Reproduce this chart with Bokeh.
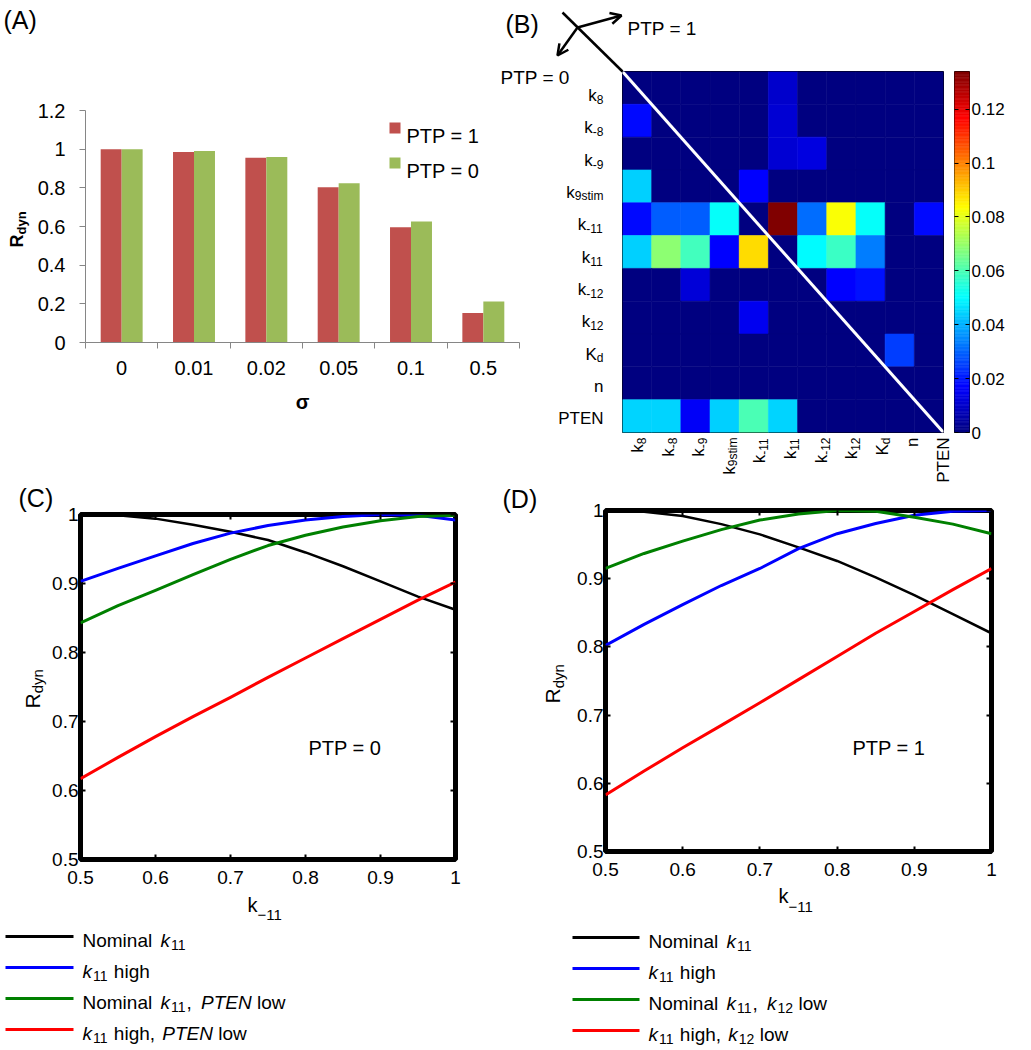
import math
import numpy as np
from bokeh.plotting import figure
from bokeh.models import (Range1d, LinearAxis, FixedTicker, Label, Arrow, OpenHead,
                          LinearColorMapper, ColumnDataSource, GridBox)
from bokeh.transform import transform
from bokeh.embed import file_html
from bokeh.resources import INLINE

FONT = "Liberation Sans"

# ---------------- data ----------------
sigma_labels = ["0", "0.01", "0.02", "0.05", "0.1", "0.5"]
rdyn_ptp1 = [1.000, 0.985, 0.955, 0.803, 0.596, 0.152]
rdyn_ptp0 = [1.000, 0.990, 0.960, 0.824, 0.626, 0.212]
bar_series = ["PTP = 1", "PTP = 0"]
rdyn_ticks = [0, 0.2, 0.4, 0.6, 0.8, 1.0, 1.2]
rdyn_tick_labels = ["0", "0.2", "0.4", "0.6", "0.8", "1", "1.2"]

param_main = ["k", "k", "k", "k", "k", "k", "k", "k", "K", "n", "PTEN"]
param_sub = ["8", "-8", "-9", "9stim", "-11", "11", "-12", "12", "d", "", ""]
sens = [
    [0, 0, 0, 0, 0, 0.010, 0, 0, 0, 0, 0],
    [0.018, 0, 0, 0, 0, 0.011, 0, 0, 0, 0, 0],
    [0, 0, 0, 0, 0, 0.011, 0.013, 0, 0, 0, 0],
    [0.044, 0, 0, 0, 0.017, 0, 0, 0, 0, 0, 0],
    [0.018, 0.029, 0.029, 0.051, 0, 0.134, 0.031, 0.083, 0.051, 0, 0.018],
    [0.044, 0.069, 0.059, 0.017, 0.088, 0, 0.050, 0.058, 0.033, 0, 0],
    [0, 0, 0.012, 0, 0, 0, 0, 0.017, 0.019, 0, 0],
    [0, 0, 0, 0, 0.015, 0, 0, 0, 0, 0, 0],
    [0, 0, 0, 0, 0, 0, 0, 0, 0, 0.025, 0],
    [0, 0, 0, 0, 0, 0, 0, 0, 0, 0, 0],
    [0.045, 0.045, 0.016, 0.044, 0.060, 0.045, 0, 0, 0, 0, 0],
]
cbar_ticks = [0, 0.02, 0.04, 0.06, 0.08, 0.1, 0.12]
cbar_tick_labels = ["0", "0.02", "0.04", "0.06", "0.08", "0.1", "0.12"]
cbar_max = 0.134

k_minus11 = [0.5, 0.55, 0.6, 0.65, 0.7, 0.75, 0.8, 0.85, 0.9, 0.95, 1.0]
c_nominal = [1.000, 0.999, 0.994, 0.985, 0.975, 0.963, 0.945, 0.925, 0.903, 0.881, 0.862]
c_k11_high = [0.903, 0.922, 0.940, 0.958, 0.973, 0.984, 0.992, 0.997, 1.000, 0.999, 0.992]
c_pten_low = [0.843, 0.868, 0.890, 0.913, 0.935, 0.955, 0.970, 0.982, 0.991, 0.997, 0.999]
c_k11_high_pten_low = [0.617, 0.648, 0.678, 0.707, 0.735, 0.764, 0.792, 0.820, 0.848, 0.876, 0.902]
d_nominal = [1.000, 0.998, 0.992, 0.980, 0.965, 0.946, 0.926, 0.902, 0.876, 0.848, 0.820]
d_k11_high = [0.802, 0.833, 0.862, 0.890, 0.915, 0.944, 0.966, 0.981, 0.993, 0.999, 1.000]
d_k12_low = [0.915, 0.937, 0.955, 0.972, 0.986, 0.995, 1.000, 0.999, 0.990, 0.980, 0.966]
d_k11_high_k12_low = [0.583, 0.618, 0.652, 0.685, 0.718, 0.752, 0.786, 0.820, 0.852, 0.884, 0.915]
curve_ticks = [0.5, 0.6, 0.7, 0.8, 0.9, 1.0]
curve_tick_labels = ["0.5", "0.6", "0.7", "0.8", "0.9", "1"]

RED_BAR, GREEN_BAR = "#C0504D", "#9BBB59"
CURVE_COLORS = ["#000000", "#0000FF", "#008000", "#FF0000"]
CURVE_WIDTHS = [2.5, 3, 3, 3]


# jet colormap (MATLAB style)
def jet(n=256):
    out = []
    for i in range(n):
        f = i / (n - 1)
        r = min(max(1.5 - abs(4 * f - 3), 0), 1)
        g = min(max(1.5 - abs(4 * f - 2), 0), 1)
        b = min(max(1.5 - abs(4 * f - 1), 0), 1)
        out.append("#%02x%02x%02x" % (int(round(r * 255)), int(round(g * 255)), int(round(b * 255))))
    return out


JET = jet(256)

# ---------------- layout helpers (image pixel coordinates) ----------------
W, H = 1030, 1049


def panel(left, top, right, bottom, x_range, y_range):
    p = figure(width=W, height=H, x_range=x_range, y_range=y_range,
               output_backend="svg", toolbar_location=None,
               x_axis_location=None, y_axis_location=None,
               min_border_left=int(round(left)), min_border_right=int(round(W - right)),
               min_border_top=int(round(top)), min_border_bottom=int(round(H - bottom)))
    p.frame_align = False
    p.border_fill_color = None
    p.background_fill_color = None
    p.outline_line_color = None
    p.xgrid.visible = False
    p.ygrid.visible = False
    return p


# ---------------- Panel A ----------------
nA = len(sigma_labels)
pA = panel(85, 110, 519, 342, Range1d(0, nA), Range1d(0, 1.2))
xc = np.arange(nA) + 0.5
bw = 0.29
srcA = ColumnDataSource(dict(x1=xc - bw / 2, x0=xc + bw / 2, p1=rdyn_ptp1, p0=rdyn_ptp0))
pA.vbar(x="x1", top="p1", bottom=0, width=bw, source=srcA, fill_color=RED_BAR, line_color=None)
pA.vbar(x="x0", top="p0", bottom=0, width=bw, source=srcA, fill_color=GREEN_BAR, line_color=None)
yaA = LinearAxis(ticker=FixedTicker(ticks=rdyn_ticks),
                 major_label_overrides=dict(zip(rdyn_ticks, rdyn_tick_labels)),
                 axis_line_color="#868686", major_tick_line_color="#868686",
                 major_tick_out=6, major_tick_in=0, minor_tick_line_color=None,
                 major_label_text_font=FONT, major_label_text_font_size="20px",
                 major_label_text_color="black", major_label_standoff=14)
pA.add_layout(yaA, "left")
xaA = LinearAxis(ticker=FixedTicker(ticks=xc.tolist(), minor_ticks=list(range(nA + 1))),
                 major_label_overrides=dict(zip(xc.tolist(), sigma_labels)),
                 axis_line_color="#868686", major_tick_line_color=None,
                 major_tick_out=0, major_tick_in=0,
                 minor_tick_line_color="#868686", minor_tick_out=6, minor_tick_in=0,
                 major_label_text_font=FONT, major_label_text_font_size="20px",
                 major_label_text_color="black", major_label_standoff=12)
pA.add_layout(xaA, "below")

# ---------------- Panel B (heatmap) ----------------
nP = len(param_main)
pB = panel(622, 71, 943, 432, Range1d(0, nP), Range1d(nP, 0))
mapper = LinearColorMapper(palette=JET, low=0, high=cbar_max)
rr, cc = np.indices((nP, nP))
srcB = ColumnDataSource(dict(x=(cc.ravel() + 0.5), y=(rr.ravel() + 0.5), v=np.array(sens).ravel()))
pB.rect(x="x", y="y", width=1, height=1, source=srcB,
        fill_color=transform("v", mapper), line_color=transform("v", mapper), line_width=0.6)
pB.line([0, nP], [0, nP], line_color="white", line_width=3)
pB.outline_line_color = "black"
pB.outline_line_width = 1

# colorbar
pCB = panel(954, 71, 969, 432, Range1d(0, 1), Range1d(0, cbar_max))
edges = np.linspace(0, cbar_max, len(JET) + 1)
pCB.quad(left=0, right=1, bottom=edges[:-1], top=edges[1:], fill_color=JET, line_color=JET, line_width=0.6)
pCB.outline_line_color = "black"
pCB.outline_line_width = 1
cb_right = LinearAxis(ticker=FixedTicker(ticks=cbar_ticks),
                      major_label_overrides=dict(zip(cbar_ticks, cbar_tick_labels)),
                      axis_line_color=None, major_tick_line_color="black",
                      major_tick_in=4, major_tick_out=0, minor_tick_line_color=None,
                      major_label_text_font=FONT, major_label_text_font_size="17px",
                      major_label_text_color="black", major_label_standoff=2)
pCB.add_layout(cb_right, "right")
cb_left = LinearAxis(ticker=FixedTicker(ticks=cbar_ticks),
                     major_label_overrides={t: "" for t in cbar_ticks},
                     axis_line_color=None, major_tick_line_color="black",
                     major_tick_in=4, major_tick_out=0, minor_tick_line_color=None)
pCB.add_layout(cb_left, "left")


# ---------------- Panels C, D ----------------
def curve_panel(left, top, right, bottom, series):
    p = panel(left, top, right, bottom, Range1d(0.5, 1.0), Range1d(0.5, 1.0))
    for ys, col, lw in zip(series, CURVE_COLORS, CURVE_WIDTHS):
        p.line(k_minus11, ys, line_color=col, line_width=lw, line_join="round")
    p.outline_line_color = "black"
    p.outline_line_width = 5
    common = dict(ticker=FixedTicker(ticks=curve_ticks), axis_line_color=None,
                  major_tick_line_color="black", major_tick_line_width=2,
                  major_tick_in=5, major_tick_out=0, minor_tick_line_color=None,
                  major_label_text_font=FONT, major_label_text_font_size="19px",
                  major_label_text_color="black")
    p.add_layout(LinearAxis(major_label_overrides=dict(zip(curve_ticks, curve_tick_labels)),
                            major_label_standoff=2, **common), "left")
    p.add_layout(LinearAxis(major_label_overrides=dict(zip(curve_ticks, curve_tick_labels)),
                            major_label_standoff=11, **common), "below")
    p.add_layout(LinearAxis(major_label_overrides={t: "" for t in curve_ticks}, **common), "right")
    p.add_layout(LinearAxis(major_label_overrides={t: "" for t in curve_ticks}, **common), "above")
    return p


pC = curve_panel(80, 514, 455, 859, [c_nominal, c_k11_high, c_pten_low, c_k11_high_pten_low])
pD = curve_panel(605, 510, 991, 851, [d_nominal, d_k11_high, d_k12_low, d_k11_high_k12_low])

# ---------------- Overlay (texts, arrows, legends) ----------------
o = panel(0, 0, W, H, Range1d(0, W), Range1d(H, 0))

AW = {' ': 278, ',': 278, '-': 333, '.': 278, '=': 584, '(': 333, ')': 333, '\u2212': 584,
      'A': 667, 'B': 667, 'C': 722, 'D': 722, 'E': 667, 'K': 667, 'N': 722, 'P': 667, 'R': 722, 'T': 611,
      'a': 556, 'd': 556, 'e': 556, 'g': 556, 'h': 556, 'i': 222, 'k': 500, 'l': 222, 'm': 833,
      'n': 556, 'o': 556, 's': 500, 't': 278, 'w': 722, 'y': 500}
BW = {'R': 722, 'd': 611, 'y': 556, 'n': 611}


def tw(s, size, style="normal"):
    tot = 0
    for ch in s:
        if style == "bold" and ch in BW:
            tot += BW[ch]
        else:
            tot += AW.get(ch, 556)
    return tot * size / 1000.0


def label(x, y, text, size, style="normal", align="left", baseline="alphabetic", angle=0.0, color="black"):
    o.add_layout(Label(x=x, y=y, text=text, text_font=FONT, text_font_size=f"{size}px",
                       text_font_style=style, text_align=align, text_baseline=baseline,
                       angle=angle, text_color=color))


def rich(x, y, parts, angle=0.0, align="left"):
    # parts: (text, size, style, drop, gap_after)
    total = sum(tw(t, s, st) + g for t, s, st, d, g in parts)
    pos = -total if align == "right" else 0.0
    ux, uy = math.cos(angle), -math.sin(angle)
    vx, vy = math.sin(angle), math.cos(angle)
    for t, s, st, d, g in parts:
        lead = len(t) - len(t.lstrip(" "))
        pos += tw(" " * lead, s, st)
        body = t.strip(" ")
        if body:
            label(x + ux * pos + vx * d, y + uy * pos + vy * d, body, s, st, angle=angle)
        pos += tw(t.lstrip(" "), s, st) + g


# panel letters
label(3, 19, "(A)", 25)
label(505, 23, "(B)", 25)
label(18, 497, "(C)", 25)
label(502, 498, "(D)", 25)

# Panel A axis titles and legend
rich(16, 247, [("R", 18, "bold", 0, 0), ("dyn", 13, "bold", 5, 0)], angle=math.pi / 2)
label(302, 401, "\u03c3", 20, "bold", align="center")
o.quad(left=[389, 389], right=[400, 400], top=[122, 157], bottom=[133, 168],
       fill_color=[RED_BAR, GREEN_BAR], line_color=None)
label(406, 135, bar_series[0], 20)
label(406, 170, bar_series[1], 20)

# Panel B decorations
o.line([562, 622], [12, 71], line_color="black", line_width=2.5)
o.add_layout(Arrow(end=OpenHead(size=11, line_width=2.5, line_color="black"),
                   x_start=577, y_start=27, x_end=621, y_end=15, line_width=2.5, line_color="black"))
o.add_layout(Arrow(end=OpenHead(size=11, line_width=2.5, line_color="black"),
                   x_start=577, y_start=27, x_end=557, y_end=55, line_width=2.5, line_color="black"))
label(627, 28, "PTP = 1", 19)
label(500, 77, "PTP = 0", 19)

for i, (m, s) in enumerate(zip(param_main, param_sub)):
    parts = [(m, 17, "normal", 0, 0)]
    if s:
        parts.append((s, 12, "normal", 4, 0))
    # row labels (right aligned)
    rich(603, 95 + 32.33 * i, parts, align="right")
    # column labels (rotated)
    rich(637 + 30.6 * i, 437, parts, angle=math.pi / 2, align="right")

# Panel C / D axis titles
rich(32, 708, [("R", 21, "normal", 0, 0), ("dyn", 15, "normal", 5, 0)], angle=math.pi / 2)
rich(552, 703, [("R", 21, "normal", 0, 0), ("dyn", 15, "normal", 6, 0)], angle=math.pi / 2)
rich(247, 904, [("k", 20, "normal", 0, 0), ("\u221211", 15, "normal", 10, 0)])
rich(778, 895, [("k", 20, "normal", 0, 0), ("\u221211", 15, "normal", 11, 0)])
label(308, 747, "PTP = 0", 20)
label(852, 747, "PTP = 1", 20)

# legends C / D
K11 = [("k", 19, "italic", 0, 1), ("11", 14, "normal", 4, 0)]
K12 = [("k", 19, "italic", 0, 1), ("12", 14, "normal", 4, 0)]
NOM = [("Nominal ", 19, "normal", 0, 3)]
legend_C = [
    NOM + K11,
    K11 + [(" high", 19, "normal", 0, 0)],
    NOM + K11 + [(", ", 19, "normal", 0, 4), ("PTEN", 19, "italic", 0, 0), (" low", 19, "normal", 0, 0)],
    K11 + [(" high, ", 19, "normal", 0, 2), ("PTEN", 19, "italic", 0, 0), (" low", 19, "normal", 0, 0)],
]
legend_D = [
    NOM + K11,
    K11 + [(" high", 19, "normal", 0, 0)],
    NOM + K11 + [(", ", 19, "normal", 0, 4)] + K12 + [(" low", 19, "normal", 0, 0)],
    K11 + [(" high, ", 19, "normal", 0, 2)] + K12 + [(" low", 19, "normal", 0, 0)],
]
for j, (parts, col) in enumerate(zip(legend_C, CURVE_COLORS)):
    yb = 940 + 31 * j
    o.segment(x0=[5], x1=[73], y0=[yb - 4], y1=[yb - 4], line_color=col, line_width=3)
    rich(82, yb, parts)
for j, (parts, col) in enumerate(zip(legend_D, CURVE_COLORS)):
    yb = 941 + 31 * j
    o.segment(x0=[572], x1=[639], y0=[yb - 4], y1=[yb - 4], line_color=col, line_width=3)
    rich(648, yb, parts)

root = GridBox(children=[(f, 0, 0) for f in [pA, pB, pCB, pC, pD, o]])
open("out.html", "w").write(file_html(root, INLINE))
